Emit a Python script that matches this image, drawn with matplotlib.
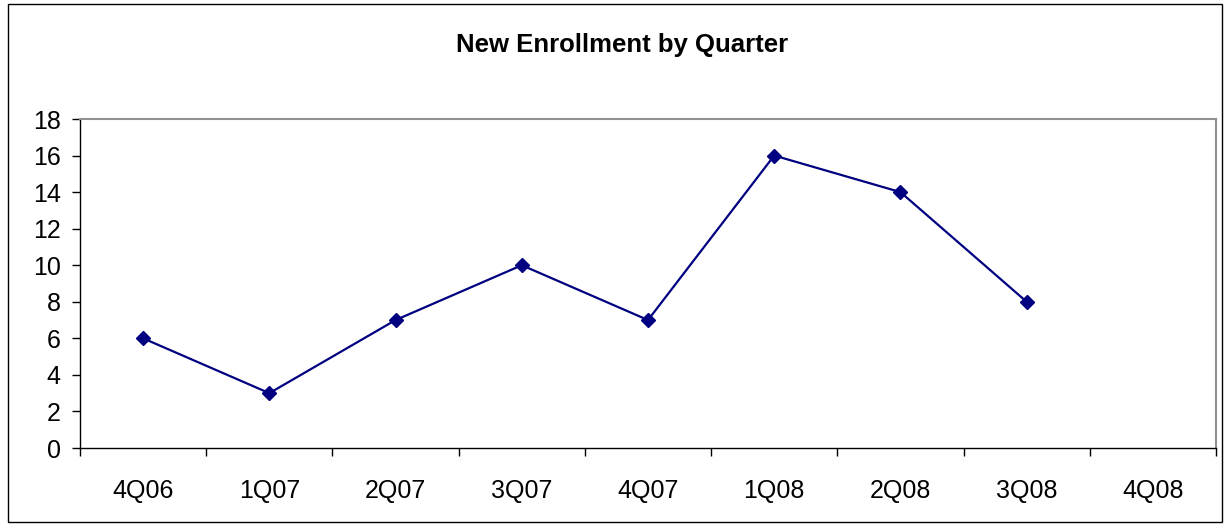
import matplotlib
matplotlib.use("Agg")
import matplotlib.pyplot as plt
from matplotlib.patches import Rectangle
import numpy as np

categories = ["4Q06", "1Q07", "2Q07", "3Q07", "4Q07", "1Q08", "2Q08", "3Q08", "4Q08"]
values = [6, 3, 7, 10, 7, 16, 14, 8]
title = "New Enrollment by Quarter"

plt.rcParams['font.family'] = ['Liberation Sans', 'DejaVu Sans']

fig = plt.figure(figsize=(12.26, 5.24), dpi=100)
ax = fig.add_axes([80/1226, 1-448/524, (1216-80)/1226, (448-119)/524])

x = np.arange(len(values))
ax.plot(x, values, color='#000080', lw=1.6, marker='D', markersize=7.5, markerfacecolor='#000080', markeredgecolor='#000080')

ax.set_xlim(-0.5, len(categories)-0.5)
ax.set_ylim(0, 18)
ax.set_yticks(np.arange(0, 19, 2))
ax.set_xticks(np.arange(-0.5, len(categories), 1.0))
ax.set_xticklabels([])
ax.set_xticks(np.arange(len(categories)), minor=True)
ax.set_xticklabels(categories, minor=True)
ax.tick_params(axis='x', which='minor', length=0, pad=22, labelsize=18)
ax.tick_params(axis='x', which='major', length=6, direction='out', width=1)
ax.tick_params(axis='y', length=6, direction='out', width=1, labelsize=18, pad=8)

for s in ['top', 'right']:
    ax.spines[s].set_color('#909090')
    ax.spines[s].set_linewidth(1.5)
for s in ['left', 'bottom']:
    ax.spines[s].set_color('black')
    ax.spines[s].set_linewidth(1)

fig.text(622/1226, 1-45/524, title, ha='center', va='center', fontsize=18.5, fontweight='bold')

fig.patches.append(Rectangle((8/1226, 2/524), (1222-8)/1226, (520-2)/524, transform=fig.transFigure,
                             fill=False, edgecolor='black', lw=1))

fig.savefig("out.png", dpi=100)
